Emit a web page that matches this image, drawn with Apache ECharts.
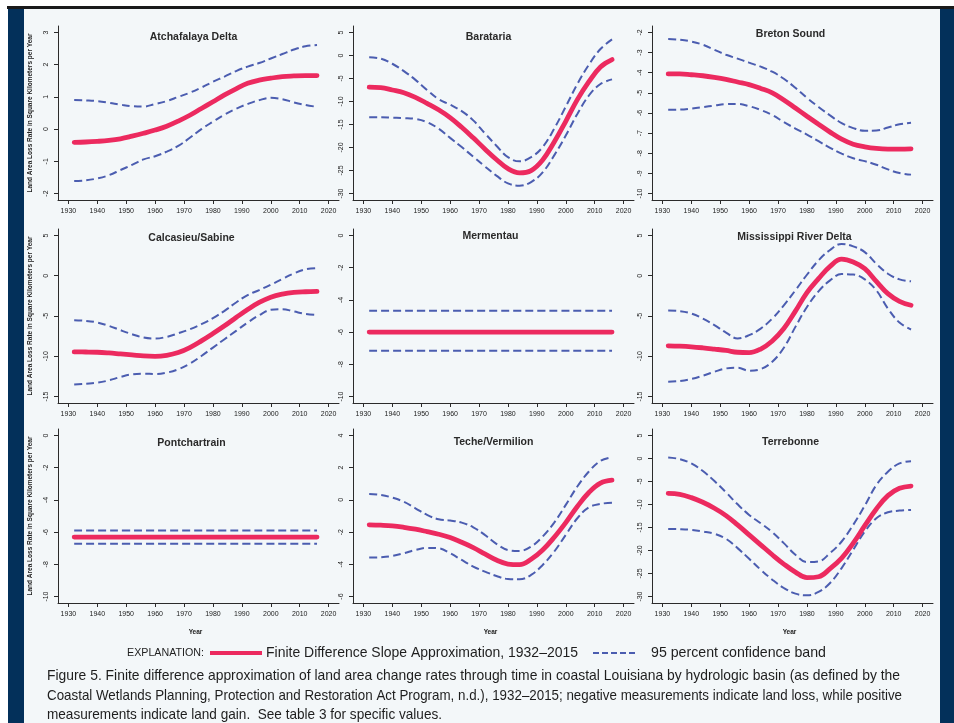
<!DOCTYPE html>
<html><head><meta charset="utf-8">
<script src="https://cdn.jsdelivr.net/npm/echarts@6/dist/echarts.min.js"></script>
<style>html,body{margin:0;padding:0;background:#fff}#c{width:954px;height:723px}</style>
</head><body><div id="c"></div><script>
// ---------- data ----------
const years = [1932,1936,1940,1944,1948,1952,1956,1960,1964,1968,1972,1976,1980,1984,1988,1992,1996,2000,2004,2008,2012,2016];
const flatYears = [1932, 2016];
const yearTicks = [1930,1940,1950,1960,1970,1980,1990,2000,2010,2020];

const atchafalayaFit   = [-0.41,-0.40,-0.38,-0.35,-0.30,-0.22,-0.13,-0.03,0.09,0.25,0.43,0.64,0.85,1.06,1.25,1.42,1.52,1.58,1.63,1.65,1.66,1.66];
const atchafalayaUpper = [0.90,0.89,0.87,0.82,0.76,0.71,0.70,0.78,0.87,1.00,1.13,1.29,1.47,1.63,1.80,1.94,2.05,2.19,2.33,2.47,2.57,2.61];
const atchafalayaLower = [-1.61,-1.59,-1.53,-1.43,-1.27,-1.11,-0.94,-0.84,-0.70,-0.52,-0.27,0.00,0.23,0.45,0.63,0.78,0.90,0.97,0.93,0.83,0.75,0.69];
const atchafalayaTicks = [-2,-1,0,1,2,3];

const baratariaFit   = [-6.9,-7.0,-7.5,-8.1,-9.1,-10.4,-11.8,-13.5,-15.6,-17.9,-20.3,-22.6,-24.6,-25.5,-25.0,-22.7,-18.8,-14.3,-9.6,-5.7,-2.5,-0.9];
const baratariaUpper = [-0.4,-0.7,-1.8,-3.4,-5.3,-7.5,-9.5,-10.7,-12.1,-14.1,-16.9,-19.6,-22.1,-23.0,-22.1,-19.9,-15.9,-11.1,-6.2,-2.0,1.4,3.5];
const baratariaLower = [-13.4,-13.4,-13.5,-13.6,-13.8,-14.5,-15.9,-17.9,-19.9,-22.0,-24.1,-26.1,-27.8,-28.3,-27.5,-25.4,-21.7,-17.4,-12.7,-8.7,-6.2,-5.2];
const baratariaTicks = [-30,-25,-20,-15,-10,-5,0,5];

const bretonFit   = [-4.06,-4.06,-4.10,-4.15,-4.23,-4.33,-4.46,-4.59,-4.78,-5.00,-5.35,-5.75,-6.16,-6.56,-6.95,-7.30,-7.55,-7.68,-7.76,-7.79,-7.79,-7.78];
const bretonUpper = [-2.33,-2.36,-2.45,-2.61,-2.86,-3.11,-3.30,-3.50,-3.70,-3.95,-4.30,-4.75,-5.25,-5.70,-6.12,-6.50,-6.75,-6.88,-6.87,-6.72,-6.56,-6.49];
const bretonLower = [-5.84,-5.83,-5.78,-5.71,-5.63,-5.56,-5.55,-5.66,-5.85,-6.10,-6.45,-6.77,-7.07,-7.40,-7.73,-8.02,-8.25,-8.39,-8.57,-8.80,-8.98,-9.06];
const bretonTicks = [-10,-9,-8,-7,-6,-5,-4,-3,-2];

const calcasieuFit   = [-9.46,-9.47,-9.50,-9.59,-9.71,-9.83,-9.96,-10.0,-9.88,-9.54,-8.92,-8.09,-7.18,-6.22,-5.19,-4.19,-3.32,-2.66,-2.28,-2.07,-1.99,-1.95];
const calcasieuUpper = [-5.52,-5.60,-5.81,-6.22,-6.76,-7.26,-7.68,-7.80,-7.59,-7.14,-6.64,-6.02,-5.27,-4.36,-3.32,-2.41,-1.78,-1.12,-0.41,0.29,0.79,0.95];
const calcasieuLower = [-13.49,-13.40,-13.28,-12.99,-12.57,-12.24,-12.16,-12.20,-12.03,-11.62,-10.91,-9.96,-8.92,-7.88,-6.85,-5.81,-4.90,-4.23,-4.15,-4.44,-4.73,-4.85];
const calcasieuTicks = [-15,-10,-5,0,5];

const mermentauFit   = [-6.0,-6.0];
const mermentauUpper = [-4.68,-4.68];
const mermentauLower = [-7.16,-7.16];
const mermentauTicks = [-10,-8,-6,-4,-2,0];

const mississippiFit   = [-8.70,-8.74,-8.82,-8.95,-9.11,-9.28,-9.50,-9.55,-9.10,-8.10,-6.56,-4.40,-2.10,-0.37,1.15,2.05,1.70,0.87,-0.70,-2.23,-3.18,-3.67];
const mississippiUpper = [-4.33,-4.40,-4.70,-5.32,-6.14,-7.05,-7.79,-7.38,-6.56,-5.32,-3.67,-1.81,0.12,1.90,3.20,3.95,3.65,2.93,1.48,0.25,-0.45,-0.70];
const mississippiLower = [-13.15,-13.07,-12.82,-12.41,-11.92,-11.51,-11.42,-11.79,-11.59,-10.68,-8.95,-6.35,-3.88,-1.94,-0.58,0.20,0.15,-0.45,-1.81,-4.08,-5.81,-6.68];
const mississippiTicks = [-15,-10,-5,0,5];

const pontchartrainFit   = [-6.31,-6.31];
const pontchartrainUpper = [-5.90,-5.90];
const pontchartrainLower = [-6.73,-6.73];
const pontchartrainTicks = [-10,-8,-6,-4,-2,0];

const techeFit   = [-1.55,-1.57,-1.61,-1.70,-1.82,-1.97,-2.13,-2.34,-2.63,-2.96,-3.35,-3.73,-3.98,-4.02,-3.69,-3.11,-2.32,-1.41,-0.41,0.46,1.04,1.22];
const techeUpper = [0.37,0.31,0.14,-0.12,-0.52,-0.93,-1.20,-1.28,-1.41,-1.70,-2.17,-2.73,-3.11,-3.17,-2.90,-2.28,-1.41,-0.31,0.83,1.76,2.42,2.65];
const techeLower = [-3.58,-3.56,-3.48,-3.31,-3.11,-2.98,-3.00,-3.31,-3.73,-4.14,-4.45,-4.72,-4.91,-4.93,-4.66,-4.04,-3.21,-2.17,-1.14,-0.46,-0.25,-0.17];
const techeTicks = [-6,-4,-2,0,2,4];

const terrebonneFit   = [-7.58,-7.79,-8.51,-9.52,-10.82,-12.41,-14.43,-16.59,-18.76,-20.92,-22.94,-24.68,-25.90,-25.70,-23.95,-21.65,-18.40,-14.60,-10.97,-8.08,-6.49,-5.99];
const terrebonneUpper = [0.22,-0.14,-1.08,-2.74,-4.91,-7.36,-9.96,-12.27,-14.07,-16.02,-18.40,-20.92,-22.51,-22.37,-20.56,-18.04,-14.43,-10.25,-5.77,-2.89,-1.08,-0.58];
const terrebonneLower = [-15.30,-15.35,-15.51,-15.87,-16.38,-17.46,-19.48,-21.79,-24.17,-26.33,-28.14,-29.37,-29.73,-29.00,-27.06,-23.81,-19.84,-15.87,-12.99,-11.69,-11.33,-11.18];
const terrebonneTicks = [-30,-25,-20,-15,-10,-5,0,5];

const basinNames = ['Atchafalaya Delta','Barataria','Breton Sound','Calcasieu/Sabine','Mermentau','Mississippi River Delta','Pontchartrain','Teche/Vermilion','Terrebonne'];
const yAxisTitle = 'Land Area Loss Rate in Square Kilometers per Year';
const xAxisTitle = 'Year';
const legendHeader = 'EXPLANATION:';
const legendFit = 'Finite Difference Slope Approximation, 1932\u20132015';
const legendBand = '95 percent confidence band';
const captionLines = [
  'Figure 5. Finite difference approximation of land area change rates through time in coastal Louisiana by hydrologic basin (as defined by the',
  'Coastal Wetlands Planning, Protection and Restoration Act Program, n.d.), 1932\u20132015; negative measurements indicate land loss, while positive',
  'measurements indicate land gain.  See table 3 for specific values.'
];

// ---------- assembly ----------
const panels = [
  [years, atchafalayaFit, atchafalayaUpper, atchafalayaLower, atchafalayaTicks],
  [years, baratariaFit, baratariaUpper, baratariaLower, baratariaTicks],
  [years, bretonFit, bretonUpper, bretonLower, bretonTicks],
  [years, calcasieuFit, calcasieuUpper, calcasieuLower, calcasieuTicks],
  [flatYears, mermentauFit, mermentauUpper, mermentauLower, mermentauTicks],
  [years, mississippiFit, mississippiUpper, mississippiLower, mississippiTicks],
  [flatYears, pontchartrainFit, pontchartrainUpper, pontchartrainLower, pontchartrainTicks],
  [years, techeFit, techeUpper, techeLower, techeTicks],
  [years, terrebonneFit, terrebonneUpper, terrebonneLower, terrebonneTicks]
];

const FONT = '"Liberation Sans", Arial, sans-serif';
const CAPFONT = '"Liberation Sans", Arial, sans-serif';
const RED = '#ec2a5f', BLUE = '#4b5db0', AX = '#2b2b2b';
const colLeft = [58, 353, 652];
const rowTop = [26, 229, 429];
const GW = 281, GH = 174;
const titleY = [37, 37, 34, 238, 236, 237, 443, 442, 442];
const titleDX = [-5, -5, -2, -7, -3, 2, -7, 0, -2];

const measureCtx = document.createElement('canvas').getContext('2d');
function squeezedText(txt, x, y, size, targetW) {
  const font = size + 'px ' + CAPFONT;
  measureCtx.font = font;
  const w = measureCtx.measureText(txt).width;
  return {type:'text', x:x, y:y, scaleX: targetW / w, scaleY: 1,
    style:{text:txt, font:font, fill:'#1e1e1e', textAlign:'left', textVerticalAlign:'middle'}};
}

const option = {animation:false, backgroundColor:'#f3f7f9', grid:[], xAxis:[], yAxis:[], series:[], graphic:[]};

function ext(lo, hi){ const d = (hi-lo)*0.04; return [lo-d, hi+d]; }
const plain = v => String(v);

panels.forEach((p, i) => {
  const [xs, fit, up, low, ticks] = p;
  const col = i % 3, row = Math.floor(i / 3);
  option.grid.push({left: colLeft[col], top: rowTop[row], width: GW, height: GH});
  const xr = ext(yearTicks[0], yearTicks[yearTicks.length-1]);
  const yr = ext(ticks[0], ticks[ticks.length-1]);
  option.xAxis.push({type:'value', gridIndex:i, min:xr[0], max:xr[1],
    axisLine:{show:true, onZero:false, lineStyle:{color:AX, width:1}},
    axisTick:{show:true, length:4, customValues:yearTicks, lineStyle:{color:AX, width:1}},
    axisLabel:{customValues:yearTicks, formatter:plain, fontSize:7, color:'#222', margin:8, fontFamily:FONT},
    splitLine:{show:false}});
  option.yAxis.push({type:'value', gridIndex:i, min:yr[0], max:yr[1],
    axisLine:{show:true, onZero:false, lineStyle:{color:AX, width:1}},
    axisTick:{show:true, length:4, customValues:ticks, lineStyle:{color:AX, width:1}},
    axisLabel:{customValues:ticks, formatter:plain, fontSize:7, color:'#222', margin:8, rotate:90, fontFamily:FONT},
    splitLine:{show:false}});
  const mk = (arr) => xs.map((x, k) => [x, arr[k]]);
  const dashStyle = {color:BLUE, width:2, type:[8,4]};
  option.series.push({type:'line', xAxisIndex:i, yAxisIndex:i, data:mk(up), smooth:0.4, symbol:'none', lineStyle:dashStyle, silent:true});
  option.series.push({type:'line', xAxisIndex:i, yAxisIndex:i, data:mk(low), smooth:0.4, symbol:'none', lineStyle:dashStyle, silent:true});
  option.series.push({type:'line', xAxisIndex:i, yAxisIndex:i, data:mk(fit), smooth:0.4, symbol:'none', lineStyle:{color:RED, width:4.8, cap:'round'}, silent:true});
  option.graphic.push({type:'text', x: colLeft[col] + GW/2 + titleDX[i], y: titleY[i],
    style:{text: basinNames[i], font:'bold 10.5px ' + FONT, fill:'#2a2a2a', textAlign:'center', textVerticalAlign:'middle'}});
  if (col === 0) {
    option.graphic.push({type:'text', x:30, y: rowTop[row] + GH/2, rotation: Math.PI/2,
      style:{text: yAxisTitle, font:'bold 6.5px ' + FONT, fill:'#222', textAlign:'center', textVerticalAlign:'middle'}});
  }
  if (row === 2) {
    option.graphic.push({type:'text', x: colLeft[col] + GW/2 - 3, y: 632,
      style:{text: xAxisTitle, font:'bold 6.5px ' + FONT, fill:'#222', textAlign:'center', textVerticalAlign:'middle'}});
  }
});

// frame
option.graphic.push({type:'rect', shape:{x:0,y:0,width:954,height:7}, style:{fill:'#ffffff'}});
option.graphic.push({type:'rect', shape:{x:0,y:0,width:8,height:723}, style:{fill:'#ffffff'}});
option.graphic.push({type:'rect', shape:{x:7,y:6,width:947,height:3}, style:{fill:'#1a1a1a'}});
option.graphic.push({type:'rect', shape:{x:8,y:9,width:16,height:714}, style:{fill:'#03305a'}});
option.graphic.push({type:'rect', shape:{x:940,y:9,width:14,height:714}, style:{fill:'#03305a'}});

// legend
option.graphic.push(squeezedText(legendHeader, 127, 653, 11, 77));
option.graphic.push({type:'line', shape:{x1:210,y1:653,x2:262,y2:653}, style:{stroke:RED, lineWidth:4}});
option.graphic.push(squeezedText(legendFit, 266, 653, 15, 312));
option.graphic.push({type:'line', shape:{x1:593,y1:653,x2:636,y2:653}, style:{stroke:BLUE, lineWidth:2, lineDash:[6,3]}});
option.graphic.push(squeezedText(legendBand, 651, 653, 15, 175));
const capW = [853, 855, 395];
captionLines.forEach((t, k) => {
  option.graphic.push(squeezedText(t, 47, 676 + k*19.5, 15, capW[k]));
});

const chart = echarts.init(document.getElementById('c'), null, {renderer:'canvas'});
chart.setOption(option);
</script></body></html>
